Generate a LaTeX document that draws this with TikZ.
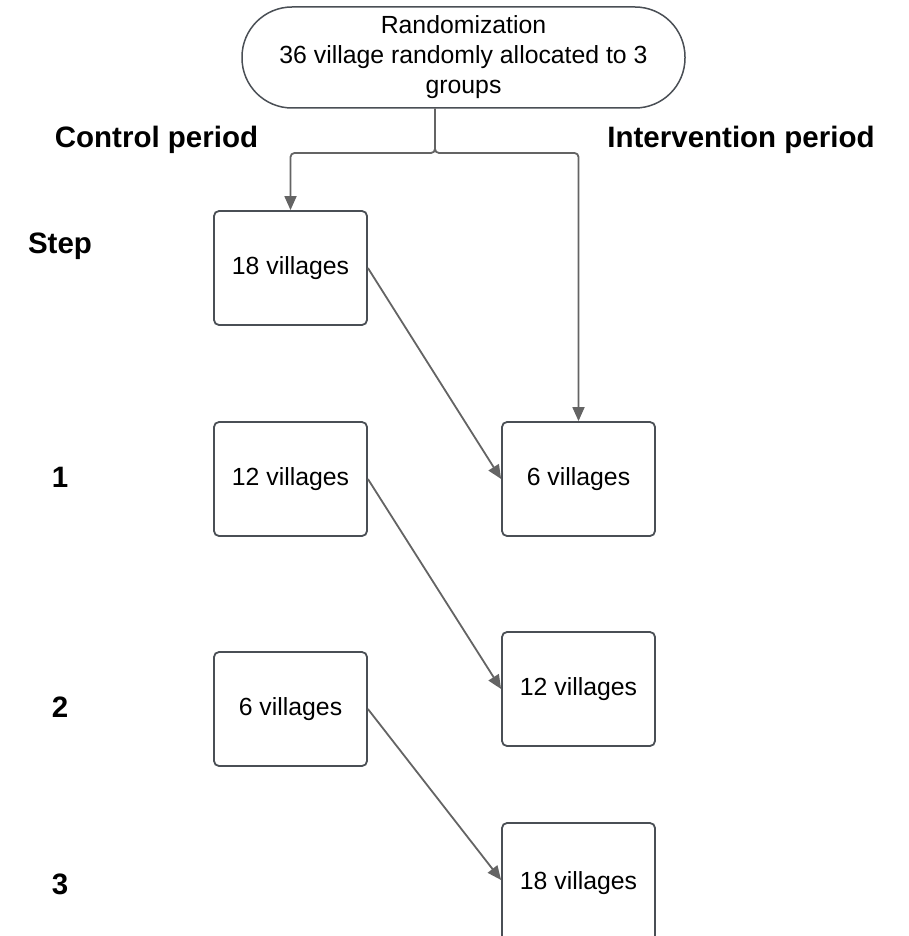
\documentclass[tikz,border=0pt]{standalone}
\usepackage{fontspec}
\setmainfont{Liberation Sans}
\usetikzlibrary{arrows.meta,calc}
\definecolor{boxline}{HTML}{4A4F55}
\definecolor{arrline}{HTML}{646464}
\begin{document}
\begin{tikzpicture}[x=1pt,y=-1pt,
  stagebox/.style={draw=boxline,line width=1.8pt,rounded corners=5pt,fill=white,
    minimum width=153pt,minimum height=114pt,inner sep=0pt,
    font=\fontsize{24.8}{29}\selectfont},
  termbox/.style={draw=boxline,line width=1.5pt,rounded corners=50pt,fill=white,
    minimum width=443pt,minimum height=101pt,inner sep=0pt,align=center,
    font=\fontsize{24.8}{30}\selectfont},
  heading/.style={font=\fontsize{29.5}{34}\selectfont\bfseries,inner sep=0pt},
  conn/.style={draw=arrline,line width=1.8pt,-{Triangle[length=14pt,width=12pt]}}
]
\useasboundingbox (0,0) rectangle (908,936);
\node[termbox] (top) at (463.5,57.5) {Randomization\\36 village randomly allocated to 3\\groups};
\node[heading] (ctrl) at (156.5,140) {Control period};
\node[heading] (intv) at (741,140) {Intervention period};
\node[heading] (step) at (60,246) {Step};
\node[heading] (s1) at (60,477) {1};
\node[heading] (s2) at (60,707) {2};
\node[heading] (s3) at (60,884) {3};
\node[stagebox] (c1) at (290.5,268) {18 villages};
\node[stagebox] (c2) at (290.5,479) {12 villages};
\node[stagebox] (c3) at (290.5,709) {6 villages};
\node[stagebox] (i1) at (578.5,479) {6 villages};
\node[stagebox] (i2) at (578.5,689) {12 villages};
\node[stagebox,minimum height=120pt] (i3) at (578.5,883) {\raisebox{3pt}{18 villages}};
\coordinate (split) at (435,153);
\draw[conn,rounded corners=4pt] (top.south -| split) -- (split) -| (c1.north);
\draw[conn,rounded corners=4pt] (top.south -| split) -- (split) -| (i1.north);
\draw[conn] (c1.east) -- (i1.west);
\draw[conn] (c2.east) -- (i2.west);
\draw[conn] (c3.east) -- ($(i3.west)+(0,-3)$);
\end{tikzpicture}
\end{document}
